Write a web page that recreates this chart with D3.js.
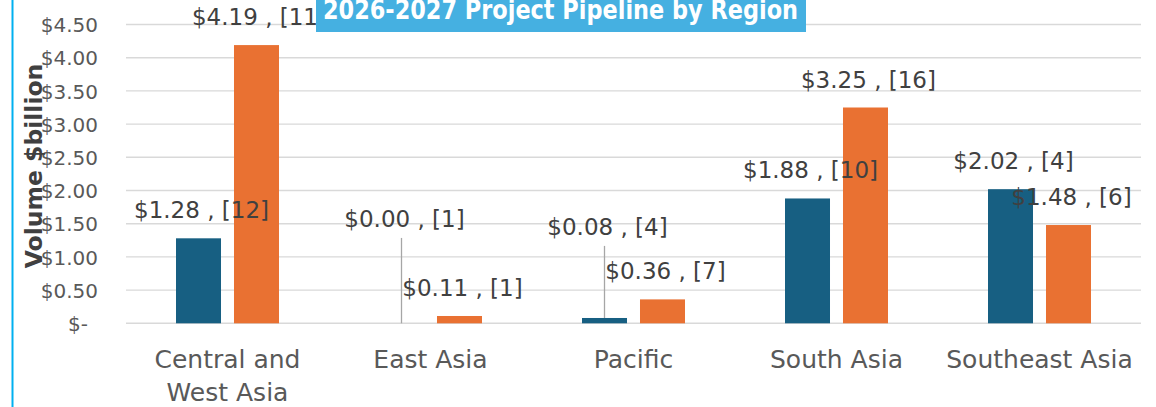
<!DOCTYPE html>
<html>
<head>
<meta charset="utf-8">
<script src="https://cdn.jsdelivr.net/npm/d3@7"></script>
<style>
  body { margin: 0; background: #fff; }
  svg text { font-family: "DejaVu Sans", sans-serif; }
</style>
</head>
<body>
<div id="chart"></div>
<script>
// data
const regions = ['Central and West Asia', 'East Asia', 'Pacific', 'South Asia', 'Southeast Asia'];
const regionLines = [['Central and', 'West Asia'], ['East Asia'], ['Pacific'], ['South Asia'], ['Southeast Asia']];
const series = ['2026', '2027'];
const volume2026 = [1.28, 0.00, 0.08, 1.88, 2.02];
const count2026 = [12, 1, 4, 10, 4];
const volume2027 = [4.19, 0.11, 0.36, 3.25, 1.48];
const count2027 = [11, 1, 7, 16, 6];
const yTicks = [0, 0.5, 1, 1.5, 2, 2.5, 3, 3.5, 4, 4.5];

const svgWidth = 1156;
const svgHeight = 407;
const plot = { left: 126, right: 1141, top: 24.5, bottom: 323.3 };
const colors = ['#175f82', '#e97132'];

// labels that were dragged up in the original, with a leader line (in value units)
const movedLabels = { '0-1': 1.15, '0-2': 1.03 };

const svg = d3.select('#chart')
  .append('svg')
  .attr('width', svgWidth)
  .attr('height', svgHeight);

const x = d3.scaleBand()
  .domain(regions)
  .range([plot.left, plot.right]);

const x1 = d3.scaleBand()
  .domain(series)
  .range([50, 153])
  .paddingInner(0.224);

const y = d3.scaleLinear()
  .domain([0, 4.5])
  .range([plot.bottom, plot.top]);

// gridlines
svg.append('g')
  .selectAll('line')
  .data(yTicks)
  .join('line')
    .attr('x1', plot.left)
    .attr('x2', plot.right)
    .attr('y1', d => y(d))
    .attr('y2', d => y(d))
    .attr('stroke', '#d9d9d9')
    .attr('stroke-width', 1.4);

// y tick labels
const yAxis = d3.axisLeft(y)
  .tickValues(yTicks)
  .tickSize(0)
  .tickPadding(0)
  .tickFormat(d => d === 0 ? '$-' : '$' + d3.format('.2f')(d));

svg.append('g')
  .attr('transform', 'translate(98,0)')
  .call(yAxis)
  .call(g => g.select('.domain').remove())
  .call(g => g.selectAll('text')
    .attr('fill', '#595959')
    .attr('font-size', 20)
    .attr('dy', '0.36em')
    .attr('dx', d => d === 0 ? -10 : 0));

const rows = regions.map((r, i) => [
  { region: r, s: 0, v: volume2026[i], n: count2026[i], key: '0-' + i },
  { region: r, s: 1, v: volume2027[i], n: count2027[i], key: '1-' + i }
]).flat();

// bars
svg.append('g')
  .selectAll('rect')
  .data(rows)
  .join('rect')
    .attr('x', d => x(d.region) + x1(series[d.s]))
    .attr('y', d => y(d.v))
    .attr('width', x1.bandwidth())
    .attr('height', d => y(0) - y(d.v))
    .attr('fill', d => colors[d.s]);

// leader lines for the moved labels
svg.append('g')
  .selectAll('line')
  .data(rows.filter(d => movedLabels[d.key] !== undefined))
  .join('line')
    .attr('x1', d => x(d.region) + x1(series[d.s]) + x1.bandwidth() / 2)
    .attr('x2', d => x(d.region) + x1(series[d.s]) + x1.bandwidth() / 2)
    .attr('y1', d => y(movedLabels[d.key]) - 20 + 11)
    .attr('y2', d => y(d.v))
    .attr('stroke', '#a6a6a6')
    .attr('stroke-width', 1.3);

// data labels
svg.append('g')
  .selectAll('text')
  .data(rows)
  .join('text')
    .attr('x', d => x(d.region) + x1(series[d.s]) + x1.bandwidth() / 2 + 3)
    .attr('y', d => y(movedLabels[d.key] !== undefined ? movedLabels[d.key] : d.v) - 20)
    .attr('text-anchor', 'middle')
    .attr('font-size', 23)
    .attr('fill', '#404040')
    .text(d => `$${d3.format('.2f')(d.v)} , [${d.n}]`);

// x category labels
const xl = svg.append('g')
  .selectAll('text')
  .data(regions)
  .join('text')
    .attr('x', d => x(d) + x.bandwidth() / 2)
    .attr('y', 368)
    .attr('text-anchor', 'middle')
    .attr('font-size', 25)
    .attr('fill', '#595959');

xl.selectAll('tspan')
  .data((d, i) => regionLines[i])
  .join('tspan')
    .attr('x', function() { return d3.select(this.parentNode).attr('x'); })
    .attr('dy', (d, i) => i === 0 ? 0 : 33)
    .text(d => d);

// y axis title
svg.append('text')
  .attr('transform', 'translate(42,166) rotate(-90)')
  .attr('text-anchor', 'middle')
  .attr('font-size', 23.5)
  .attr('font-weight', 'bold')
  .attr('fill', '#404040')
  .text('Volume $billion');

// title box
svg.append('rect')
  .attr('x', 316)
  .attr('y', 0)
  .attr('width', 490)
  .attr('height', 32)
  .attr('fill', '#45b0e1');

svg.append('text')
  .attr('x', 323)
  .attr('y', 18.5)
  .attr('font-family', '"Liberation Sans", Arial, sans-serif')
  .attr('font-size', 27)
  .attr('font-weight', 'bold')
  .attr('fill', '#ffffff')
  .attr('textLength', 475)
  .attr('lengthAdjust', 'spacingAndGlyphs')
  .text('2026-2027 Project Pipeline by Region');

// left border of the chart area
svg.append('line')
  .attr('x1', 12.5)
  .attr('x2', 12.5)
  .attr('y1', 0)
  .attr('y2', svgHeight)
  .attr('stroke', '#00b0f0')
  .attr('stroke-width', 2);
</script>
</body>
</html>
